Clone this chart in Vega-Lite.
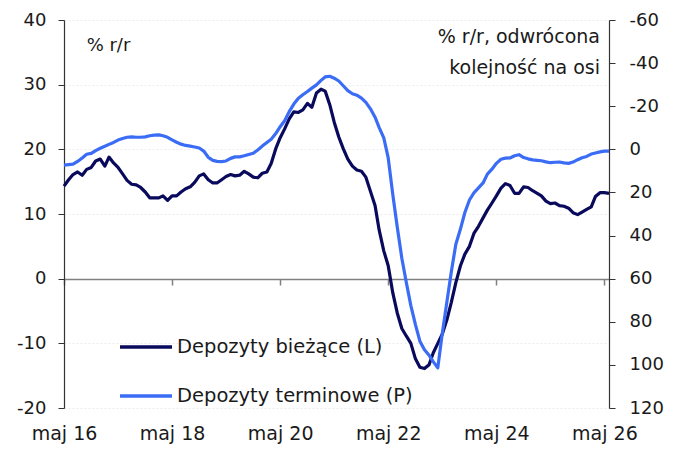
{
  "$schema": "https://vega.github.io/schema/vega-lite/v6.json",
  "width": 545,
  "height": 388,
  "autosize": "none",
  "padding": {"left": 64, "top": 20, "right": 76, "bottom": 42},
  "background": "white",
  "config": {
    "font": "DejaVu Sans",
    "view": {"stroke": null},
    "axis": {"labelFont": "DejaVu Sans", "labelFontSize": 18, "labelColor": "#1a1a1a", "title": null}
  },
  "data": {"values": [
    {"date": "2016-05-01", "L": 14.3, "P": 7.3},
    {"date": "2016-06-01", "L": 15.3, "P": 7.1},
    {"date": "2016-07-01", "L": 16.1, "P": 6.9},
    {"date": "2016-08-01", "L": 16.5, "P": 5.6},
    {"date": "2016-09-01", "L": 16.0, "P": 4.0},
    {"date": "2016-10-01", "L": 16.9, "P": 2.3},
    {"date": "2016-11-01", "L": 17.2, "P": 1.9},
    {"date": "2016-12-01", "L": 18.2, "P": 0.6},
    {"date": "2017-01-01", "L": 18.5, "P": -0.5},
    {"date": "2017-02-01", "L": 17.4, "P": -1.4},
    {"date": "2017-03-01", "L": 18.8, "P": -2.3},
    {"date": "2017-04-01", "L": 17.9, "P": -3.2},
    {"date": "2017-05-01", "L": 17.2, "P": -4.3},
    {"date": "2017-06-01", "L": 16.2, "P": -5.0},
    {"date": "2017-07-01", "L": 15.2, "P": -5.6},
    {"date": "2017-08-01", "L": 14.6, "P": -5.8},
    {"date": "2017-09-01", "L": 14.5, "P": -5.6},
    {"date": "2017-10-01", "L": 14.1, "P": -5.6},
    {"date": "2017-11-01", "L": 13.4, "P": -5.8},
    {"date": "2017-12-01", "L": 12.5, "P": -6.3},
    {"date": "2018-01-01", "L": 12.5, "P": -6.6},
    {"date": "2018-02-01", "L": 12.5, "P": -6.7},
    {"date": "2018-03-01", "L": 12.8, "P": -6.3},
    {"date": "2018-04-01", "L": 12.1, "P": -5.6},
    {"date": "2018-05-01", "L": 12.8, "P": -4.4},
    {"date": "2018-06-01", "L": 12.8, "P": -3.3},
    {"date": "2018-07-01", "L": 13.4, "P": -2.4},
    {"date": "2018-08-01", "L": 13.9, "P": -1.8},
    {"date": "2018-09-01", "L": 14.2, "P": -1.5},
    {"date": "2018-10-01", "L": 14.9, "P": -1.1},
    {"date": "2018-11-01", "L": 15.9, "P": -0.6},
    {"date": "2018-12-01", "L": 16.2, "P": 0.8},
    {"date": "2019-01-01", "L": 15.3, "P": 3.7},
    {"date": "2019-02-01", "L": 14.8, "P": 5.1},
    {"date": "2019-03-01", "L": 14.8, "P": 5.6},
    {"date": "2019-04-01", "L": 15.3, "P": 5.7},
    {"date": "2019-05-01", "L": 15.8, "P": 5.4},
    {"date": "2019-06-01", "L": 16.1, "P": 4.2},
    {"date": "2019-07-01", "L": 15.9, "P": 3.5},
    {"date": "2019-08-01", "L": 16.0, "P": 3.5},
    {"date": "2019-09-01", "L": 16.6, "P": 3.0},
    {"date": "2019-10-01", "L": 16.2, "P": 2.4},
    {"date": "2019-11-01", "L": 15.7, "P": 1.8},
    {"date": "2019-12-01", "L": 15.6, "P": 0.3},
    {"date": "2020-01-01", "L": 16.3, "P": -1.5},
    {"date": "2020-02-01", "L": 16.5, "P": -3.2},
    {"date": "2020-03-01", "L": 17.8, "P": -4.7},
    {"date": "2020-04-01", "L": 20.1, "P": -7.3},
    {"date": "2020-05-01", "L": 21.8, "P": -10.5},
    {"date": "2020-06-01", "L": 23.2, "P": -13.4},
    {"date": "2020-07-01", "L": 24.7, "P": -17.5},
    {"date": "2020-08-01", "L": 25.8, "P": -21.0},
    {"date": "2020-09-01", "L": 25.7, "P": -23.7},
    {"date": "2020-10-01", "L": 26.1, "P": -25.3},
    {"date": "2020-11-01", "L": 27.1, "P": -26.8},
    {"date": "2020-12-01", "L": 26.5, "P": -28.4},
    {"date": "2021-01-01", "L": 28.7, "P": -29.9},
    {"date": "2021-02-01", "L": 29.3, "P": -32.0},
    {"date": "2021-03-01", "L": 29.0, "P": -33.6},
    {"date": "2021-04-01", "L": 26.9, "P": -33.9},
    {"date": "2021-05-01", "L": 24.2, "P": -33.0},
    {"date": "2021-06-01", "L": 21.9, "P": -31.7},
    {"date": "2021-07-01", "L": 20.1, "P": -29.5},
    {"date": "2021-08-01", "L": 18.5, "P": -27.2},
    {"date": "2021-09-01", "L": 17.4, "P": -25.8},
    {"date": "2021-10-01", "L": 16.8, "P": -25.1},
    {"date": "2021-11-01", "L": 16.6, "P": -23.8},
    {"date": "2021-12-01", "L": 15.7, "P": -21.8},
    {"date": "2022-01-01", "L": 13.5, "P": -18.8},
    {"date": "2022-02-01", "L": 11.3, "P": -14.9},
    {"date": "2022-03-01", "L": 7.5, "P": -10.1},
    {"date": "2022-04-01", "L": 4.3, "P": -5.3},
    {"date": "2022-05-01", "L": 2.0, "P": 4.0},
    {"date": "2022-06-01", "L": -2.2, "P": 21.0},
    {"date": "2022-07-01", "L": -5.3, "P": 36.0},
    {"date": "2022-08-01", "L": -7.7, "P": 50.5},
    {"date": "2022-09-01", "L": -8.9, "P": 62.0},
    {"date": "2022-10-01", "L": -10.0, "P": 72.5},
    {"date": "2022-11-01", "L": -12.4, "P": 81.3},
    {"date": "2022-12-01", "L": -13.7, "P": 89.0},
    {"date": "2023-01-01", "L": -13.9, "P": 93.0},
    {"date": "2023-02-01", "L": -13.3, "P": 95.5},
    {"date": "2023-03-01", "L": -11.5, "P": 98.5},
    {"date": "2023-04-01", "L": -10.0, "P": 101.4},
    {"date": "2023-05-01", "L": -8.6, "P": 85.6},
    {"date": "2023-06-01", "L": -6.4, "P": 71.0},
    {"date": "2023-07-01", "L": -3.7, "P": 57.0},
    {"date": "2023-08-01", "L": -0.6, "P": 44.0},
    {"date": "2023-09-01", "L": 2.0, "P": 37.0},
    {"date": "2023-10-01", "L": 3.8, "P": 29.3},
    {"date": "2023-11-01", "L": 5.0, "P": 23.5},
    {"date": "2023-12-01", "L": 7.0, "P": 20.2},
    {"date": "2024-01-01", "L": 8.1, "P": 17.9},
    {"date": "2024-02-01", "L": 9.4, "P": 15.6},
    {"date": "2024-03-01", "L": 10.6, "P": 11.5},
    {"date": "2024-04-01", "L": 11.7, "P": 9.2},
    {"date": "2024-05-01", "L": 12.8, "P": 6.5},
    {"date": "2024-06-01", "L": 14.0, "P": 4.6},
    {"date": "2024-07-01", "L": 14.7, "P": 4.1},
    {"date": "2024-08-01", "L": 14.4, "P": 4.0},
    {"date": "2024-09-01", "L": 13.2, "P": 3.0},
    {"date": "2024-10-01", "L": 13.2, "P": 2.5},
    {"date": "2024-11-01", "L": 14.2, "P": 3.8},
    {"date": "2024-12-01", "L": 14.1, "P": 4.4},
    {"date": "2025-01-01", "L": 13.6, "P": 4.9},
    {"date": "2025-02-01", "L": 13.2, "P": 5.1},
    {"date": "2025-03-01", "L": 12.8, "P": 5.3},
    {"date": "2025-04-01", "L": 12.0, "P": 5.8},
    {"date": "2025-05-01", "L": 11.6, "P": 6.2},
    {"date": "2025-06-01", "L": 11.7, "P": 6.0},
    {"date": "2025-07-01", "L": 11.3, "P": 5.9},
    {"date": "2025-08-01", "L": 11.2, "P": 6.3},
    {"date": "2025-09-01", "L": 10.9, "P": 6.5},
    {"date": "2025-10-01", "L": 10.2, "P": 5.9},
    {"date": "2025-11-01", "L": 9.9, "P": 4.8},
    {"date": "2025-12-01", "L": 10.3, "P": 3.9},
    {"date": "2026-01-01", "L": 10.7, "P": 3.3},
    {"date": "2026-02-01", "L": 11.1, "P": 2.2},
    {"date": "2026-03-01", "L": 12.7, "P": 1.7},
    {"date": "2026-04-01", "L": 13.3, "P": 1.2},
    {"date": "2026-05-01", "L": 13.3, "P": 0.8},
    {"date": "2026-06-01", "L": 13.2, "P": 0.8}
  ]},
  "layer": [
    {
      "layer": [
        {
          "mark": {"type": "line", "strokeWidth": 3.2, "strokeJoin": "round"},
          "encoding": {
            "x": {
              "field": "date", "type": "temporal",
              "scale": {"type": "utc", "domain": [{"year": 2016, "month": 5, "date": 1, "utc": true}, {"year": 2026, "month": 6, "date": 1, "utc": true}]},
              "axis": {
                "values": [
                  {"year": 2016, "month": 5, "date": 1, "utc": true},
                  {"year": 2018, "month": 5, "date": 1, "utc": true},
                  {"year": 2020, "month": 5, "date": 1, "utc": true},
                  {"year": 2022, "month": 5, "date": 1, "utc": true},
                  {"year": 2024, "month": 5, "date": 1, "utc": true},
                  {"year": 2026, "month": 5, "date": 1, "utc": true}
                ],
                "labelExpr": "'maj ' + utcFormat(datum.value, '%y')",
                "labelFontSize": 19,
                "offset": -129,
                "tickSize": 6,
                "tickColor": "#808080",
                "domainColor": "#808080",
                "domainWidth": 1.5,
                "tickWidth": 1.5,
                "labelPadding": 139,
                "labelFlush": false,
                "labelOverlap": false,
                "grid": false
              }
            },
            "y": {
              "field": "L", "type": "quantitative",
              "scale": {"domain": [-20, 40], "nice": false, "zero": false},
              "axis": {
                "orient": "left",
                "values": [-20, -10, 0, 10, 20, 30, 40],
                "labelExpr": "'' + datum.value",
                "tickSize": 6,
                "labelPadding": 12,
                "domainColor": "#333333",
                "tickColor": "#333333",
                "domainWidth": 1.2,
                "grid": true,
                "gridColor": "#ececec",
                "gridDash": [2, 2],
                "gridWidth": 1
              }
            },
            "color": {
              "datum": "Depozyty bieżące (L)",
              "type": "nominal",
              "scale": {"domain": ["Depozyty bieżące (L)", "Depozyty terminowe (P)"], "range": ["#0a0a5c", "#3b6cf5"]},
              "legend": {
                "orient": "none",
                "legendX": 54,
                "legendY": 299,
                "title": null,
                "symbolType": "stroke",
                "symbolSize": 2704,
                "symbolStrokeWidth": 3.5,
                "labelFont": "DejaVu Sans",
                "labelFontSize": 19.5,
                "labelColor": "#1a1a1a",
                "labelOffset": 3,
                "labelLimit": 400,
                "rowPadding": 11,
                "padding": 0
              }
            }
          }
        },
        {
          "data": {"values": [{}]},
          "mark": {"type": "text", "text": "% r/r", "align": "left", "baseline": "middle", "fontSize": 18, "color": "#1a1a1a", "font": "DejaVu Sans"},
          "encoding": {
            "x": {"datum": {"year": 2016, "month": 10, "date": 1, "utc": true}, "type": "temporal"},
            "y": {"datum": 36.0, "type": "quantitative"}
          }
        },
        {
          "data": {"values": [{}]},
          "mark": {"type": "text", "text": ["% r/r, odwrócona", "kolejność na osi"], "align": "right", "baseline": "middle", "lineHeight": 31, "fontSize": 19, "color": "#1a1a1a", "font": "DejaVu Sans"},
          "encoding": {
            "x": {"datum": {"year": 2026, "month": 4, "date": 1, "utc": true}, "type": "temporal"},
            "y": {"datum": 37.4, "type": "quantitative"}
          }
        }
      ]
    },
    {
      "mark": {"type": "line", "strokeWidth": 3.2, "strokeJoin": "round"},
      "encoding": {
        "x": {"field": "date", "type": "temporal"},
        "y": {
          "field": "P", "type": "quantitative",
          "scale": {"domain": [-60, 120], "reverse": true, "nice": false, "zero": false},
          "axis": {
            "orient": "right",
            "values": [-60, -40, -20, 0, 20, 40, 60, 80, 100, 120],
            "labelExpr": "'' + datum.value",
            "tickSize": 6,
            "labelPadding": 14,
            "domainColor": "#333333",
            "tickColor": "#333333",
            "domainWidth": 1.2,
            "grid": false
          }
        },
        "color": {"datum": "Depozyty terminowe (P)", "type": "nominal"}
      }
    }
  ],
  "resolve": {"scale": {"y": "independent"}}
}
